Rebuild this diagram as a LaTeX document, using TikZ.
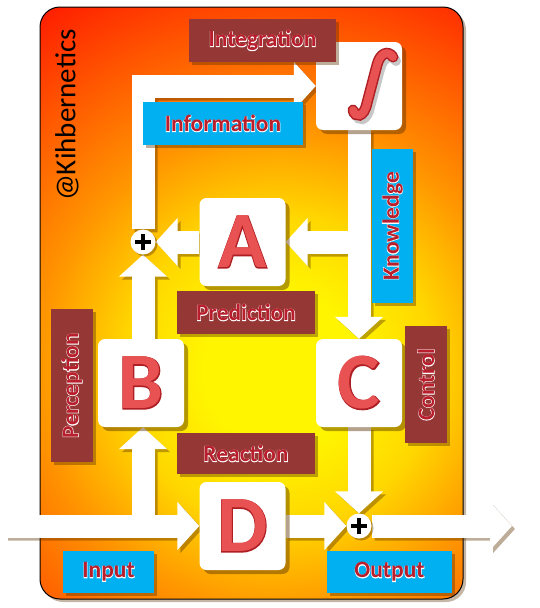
\documentclass[tikz,border=0pt]{standalone}
\usepackage{fontspec}
\setmainfont{Carlito}
\newfontfamily\glowfont{Carlito}[BoldFeatures={FakeBold=4}]
\newfontfamily\edgefont{Carlito}[BoldFeatures={FakeBold=2}]
\usetikzlibrary{arrows.meta,shadows}
\definecolor{labred}{RGB}{149,55,53}
\definecolor{labblue}{RGB}{0,176,240}
\definecolor{labtext}{RGB}{185,30,45}
\definecolor{letred}{RGB}{232,82,82}
\definecolor{letdark}{RGB}{175,30,35}
\definecolor{shadowc}{RGB}{90,50,0}
\definecolor{bgA}{RGB}{255,245,0}
\definecolor{bgB}{RGB}{255,215,0}
\definecolor{bgC}{RGB}{255,150,0}
\definecolor{bgD}{RGB}{255,85,0}
\definecolor{bgE}{RGB}{255,30,0}
\pgfdeclareradialshading{bgshade}{\pgfpoint{0bp}{0bp}}{color(0bp)=(bgA); color(4.5bp)=(bgA); color(9bp)=(bgB); color(14bp)=(bgC); color(20bp)=(bgD); color(25bp)=(bgE); color(50bp)=(bgE)}
\pgfdeclarelayer{bglayer}
\pgfdeclarelayer{arrowlayer}
\pgfsetlayers{bglayer,arrowlayer,main}
\newcommand\glow[1]{\leavevmode\rlap{\glowfont\bfseries\textcolor{white}{#1}}#1}
\newcommand\bevel[1]{\leavevmode
  \rlap{\edgefont\bfseries\textcolor{letdark}{#1}}%
  \textcolor{letred}{#1}}
\tikzset{
  box/.style={fill=white, rounded corners=7pt, minimum width=86pt, minimum height=88pt, inner sep=0pt,
    drop shadow={shadow xshift=4pt, shadow yshift=-4pt, opacity=.45, fill=shadowc},
    font=\bfseries\fontsize{80}{80}\selectfont},
  lab/.style={inner sep=0pt, font=\bfseries\fontsize{23.5}{24}\selectfont, text=labtext,
    drop shadow={shadow xshift=3pt, shadow yshift=-3pt, opacity=.4, fill=shadowc}},
  redlab/.style={lab, fill=labred},
  bluelab/.style={lab, fill=labblue},
  plus/.style={circle, fill=white, minimum size=25pt, inner sep=0pt,
    drop shadow={shadow xshift=2pt, shadow yshift=-2pt, opacity=.4, fill=shadowc},
    path picture={\draw[line width=4.5pt, black]
      ([xshift=-8pt]path picture bounding box.center) -- ([xshift=8pt]path picture bounding box.center)
      ([yshift=-8pt]path picture bounding box.center) -- ([yshift=8pt]path picture bounding box.center);}},
  flowbase/.style={line width=23pt, line join=miter, -{Triangle[length=22pt,width=47pt]}},
  whiteflow/.style={flowbase, draw=white},
  shadeflow/.style={flowbase, draw=shadowc}
}
\newcommand\flowpaths{%
  \draw[flow] (inL) -- (D.west);
  \draw[flow] (jB) -- (jB |- B.south);
  \draw[flow] (B.north -| p1) -- (p1.south);
  \draw[flow] (p1.north) -- (corner) -- (int.west);
  \draw[flow] (int.south) -- (C.north);
  \draw[flow] (jA) -- (A.east);
  \draw[flow] (A.west) -- (p1.east);
  \draw[flow] (C.south) -- (p2.north);
  \draw[flow] (D.east) -- (p2.west);
  \draw[flow] (p2.east) -- (outR);
}
\begin{document}
\begin{tikzpicture}[x=1pt,y=-1pt]
\useasboundingbox (0,0) rectangle (540,608);
% background
\begin{pgfonlayer}{bglayer}
  \fill[shadowc, opacity=.35, rounded corners=20pt] (43,10) rectangle (466,602);
  \begin{scope}
    \clip[rounded corners=20pt] (40,7) rectangle (463,599);
    \shade[shading=bgshade] (280,370) circle (430);
  \end{scope}
  \draw[rounded corners=20pt, line width=1pt] (40,7) rectangle (463,599);
\end{pgfonlayer}
% boxes
\node[box] (int) at (359,86) {};
\node[box] (A) at (242.5,242) {\bevel{A}};
\node[box] (B) at (141,383) {\bevel{B}};
\node[box] (C) at (359,383) {\bevel{C}};
\node[box] (D) at (242.5,526) {\bevel{D}};
% integral sign
\begin{scope}[shift={(int.center)}]
  \draw[black!22, line width=10pt, line cap=round] (-3,28) .. controls (-1,36) and (8,36) .. (11,21) -- (21,-17) .. controls (24,-29) and (32,-32) .. (37,-25);
  \draw[letdark, line width=11pt, line cap=round] (-6,24) .. controls (-4,32) and (5,32) .. (8,17) -- (18,-21) .. controls (21,-33) and (29,-36) .. (34,-29);
  \draw[letred, line width=8pt, line cap=round] (-6,24) .. controls (-4,32) and (5,32) .. (8,17) -- (18,-21) .. controls (21,-33) and (29,-36) .. (34,-29);
\end{scope}
% sum points
\node[plus] (p1) at (143,242) {};
\node[plus] (p2) at (359,526) {};
\coordinate (inL) at (5,526);
\coordinate (jB) at (143,526);
\coordinate (corner) at (143,86);
\coordinate (jA) at (359,242);
\coordinate (outR) at (512,526);
% connectors
\begin{pgfonlayer}{arrowlayer}
  \begin{scope}[transparency group, opacity=.4, transform canvas={shift={(3pt,-3pt)}}, flow/.style={shadeflow}]
    \flowpaths
  \end{scope}
  \begin{scope}[flow/.style={whiteflow}]
    \flowpaths
  \end{scope}
\end{pgfonlayer}
% labels
\node[redlab, minimum width=147pt, minimum height=43pt] (lint) at (262.5,40.5) {\glow{Integration}};
\node[bluelab, minimum width=160pt, minimum height=43pt] (linf) at (223,123.5) {\glow{Information}};
\node[bluelab, rotate=90, minimum width=154pt, minimum height=41pt] (lkno) at (392.5,226) {\glow{Knowledge}};
\node[redlab, minimum width=138pt, minimum height=43pt] (lpre) at (246,312.5) {\glow{Prediction}};
\node[redlab, rotate=90, minimum width=153pt, minimum height=42pt] (lper) at (72,385.5) {\glow{Perception}};
\node[redlab, rotate=90, minimum width=117pt, minimum height=42pt] (lcon) at (426,384.5) {\glow{Control}};
\node[redlab, minimum width=138pt, minimum height=41pt] (lrea) at (246,453.5) {\glow{Reaction}};
\node[bluelab, minimum width=91pt, minimum height=42pt] (linp) at (108.5,572) {\glow{Input}};
\node[bluelab, minimum width=125pt, minimum height=42pt] (lout) at (389.5,572) {\glow{Output}};
% tag
\node[rotate=90, font=\fontsize{29}{29}\selectfont, inner sep=0pt] (tag) at (67,115) {@Kihbernetics};
\end{tikzpicture}
\end{document}
